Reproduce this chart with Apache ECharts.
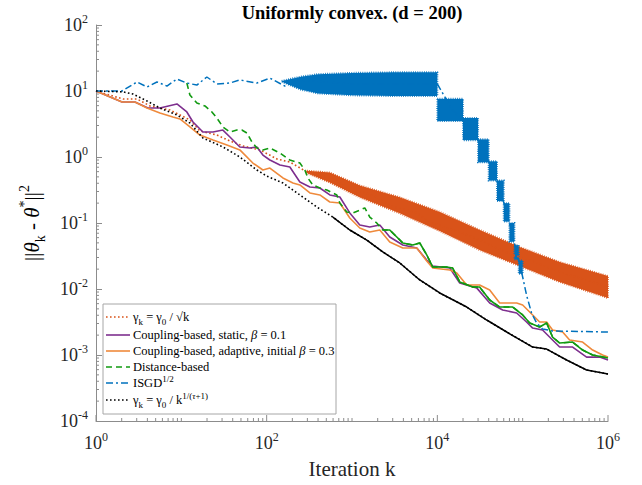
<!DOCTYPE html>
<html><head><meta charset="utf-8">
<script src="https://cdn.jsdelivr.net/npm/echarts@6/dist/echarts.min.js"></script>
<style>html,body{margin:0;padding:0;background:#fff}#c{width:642px;height:485px}</style>
</head><body><div id="c"></div>
<script>
// ---------------- data ----------------
// gamma_k = gamma_0 / sqrt(k)  (dotted, becomes a noisy band)
const sqrtK = [1,2.07,3.02,4.29,7.35,9.63,12.6,16.5,26.1,37.1,52.6,83.2,132,187,296,420,664,942,1337,1950,2770,3940,5740,8150,12900,19800,31300,49600,76400,121000,191000,294000,465000,736000,1000000];
const sqrtV = [10,7.57,7.57,5.93,5.15,4.33,3.64,2.48,2.15,1.75,1.47,1.28,0.933,0.84,0.593,0.533,0.449,0.295,0.295,0.248,0.181,0.163,0.142,0.1035,0.084,0.0705,0.0552,0.0418,0.0328,0.0275,0.0216,0.0175,0.0147,0.0123,0.0107];
const sqrtBandK  = [296,550,1234,3630,10670,31350,92200,271000,1000000];
const sqrtBandHi = [0.62,0.58,0.37,0.245,0.147,0.0783,0.0433,0.0256,0.0157];
const sqrtBandLo = [0.57,0.41,0.245,0.14,0.0757,0.039,0.0223,0.0128,0.0073];

// Coupling-based, static, beta = 0.1
const staticK = [1,2.02,2.86,4.06,5.61,8.88,11.6,13.7,17.9,23.5,30.7,37.1,48.5,63.6,76.8,90.3,109,143,187,245,321,420,550,720,942,1234,1615,2117,2770,3940,5740,7510,8830,14000,18300,28900,41100,58300,85100,111000,131000,171000,224000,271000,385000,561000,798000,1000000];
const staticV = [10,6.81,6.81,5.52,5.52,6.36,4.81,3.39,2.39,2.39,2.56,2.01,1.42,1.37,1.42,1.07,0.901,0.757,0.705,0.418,0.351,0.339,0.266,0.248,0.142,0.0933,0.0869,0.0933,0.0614,0.0464,0.0418,0.0275,0.0223,0.0208,0.0123,0.0104,0.00614,0.00481,0.00433,0.00316,0.00256,0.00239,0.00169,0.00132,0.00132,0.00093,0.00093,0.00084];

// Coupling-based, adaptive, initial beta = 0.3
const adaptK = [1,2.02,2.86,3.96,5.61,7.97,9.63,12.6,16.5,23.5,34.2,48.5,68.9,90.3,109,155,203,245,321,420,550,720,942,1234,1615,2117,2770,3940,5740,7510,8830,14000,16900,22100,31300,41100,53800,85100,100000,131000,158000,191000,224000,294000,355000,504000,661000,865000,1000000];
const adaptV = [10,6.81,6.81,5.52,4.64,4.04,3.77,2.85,2.15,1.81,1.52,1.28,0.81,0.635,0.681,0.481,0.404,0.377,0.285,0.266,0.208,0.201,0.119,0.084,0.0731,0.0783,0.0515,0.0418,0.0418,0.0266,0.0208,0.0194,0.0175,0.0115,0.0115,0.00966,0.00614,0.00614,0.00573,0.00404,0.00316,0.00316,0.00239,0.00223,0.00169,0.00157,0.00119,0.001,0.00093];

// Distance-based
const distK = [11.6,12.6,15.2,18.9,22.8,26.1,30.7,37.1,44.8,51.2,58.7,67.1,76.8,90.3,109,143,187,245,280,304,347,420,507,664,720,869,1021,1234,1413,1615,1950,2295,2770,3350,3940,5150,6225,7510,8830,12900,15100,18300,26000,31300,41100,53800,76400,100000,121000,158000,191000,224000,271000,385000,504000,661000,1000000];
const distV = [13.2,8.7,6.58,5.93,4.81,3.9,2.85,2.39,2.56,2.56,2.31,1.69,1.37,1.28,1.37,1.15,0.901,0.81,0.635,0.481,0.377,0.339,0.316,0.266,0.201,0.147,0.142,0.157,0.169,0.123,0.1,0.0783,0.0783,0.0614,0.0498,0.0464,0.0498,0.0328,0.0216,0.0216,0.0208,0.0128,0.0107,0.0107,0.00681,0.00533,0.00533,0.00404,0.00305,0.00266,0.00305,0.00187,0.00152,0.00157,0.00119,0.001,0.0009];

// ISGD^{1/2}
const isgdK = [1,2.02,3.02,3.96,5.18,6.78,8.88,11.6,15.2,19.9,26.1,37.1,48.5,76.8,109,163,245,942,10000,15000,25000,35000,45000,55000,65000,75000,85000,95000,100000,111000,127000,146000,171000,224000,1000000];
const isgdV = [10,10,13.7,11.5,13.7,11.9,15.2,13.2,12.3,16.3,12.8,13.2,14.7,13.2,15.7,11.9,14.7,12.8,12.8,5.15,2.65,1.23,0.61,0.307,0.141,0.0707,0.0352,0.0208,0.0152,0.0081,0.00433,0.00305,0.00248,0.00231,0.00223];
const isgdBandK  = [150,250,400,1000,3000,10000];
const isgdBandHi = [14.2,16.5,18,18.8,19.2,19.2];
const isgdBandLo = [13.8,10.5,9.2,8.6,8.4,8.4];
const isgdStepK0 = [10000,20000,30000,40000,50000,60000,70000,80000,90000];
const isgdStepK1 = [20000,30000,40000,50000,60000,70000,80000,90000,100000];
const isgdStepHi = [7.6,3.9,1.85,0.86,0.44,0.20,0.10,0.046,0.027];
const isgdStepLo = [3.5,1.8,0.83,0.44,0.215,0.105,0.052,0.028,0.017];

// gamma_k = gamma_0 / k^{1/(tau+1)}
const tauK = [1,2.07,2.71,3.96,5.61,8.88,12.6,17.9,30.7,48.5,76.8,100,155,245,387,596,942,1490,2295,3630,6225,10670,22100,37900,65000,131000,191000,327000,561000,1000000];
const tauV = [10,9.7,9.0,7.05,5.52,4.33,3.27,1.94,1.42,1.0,0.635,0.515,0.404,0.266,0.175,0.123,0.0783,0.0552,0.0364,0.0248,0.0137,0.0087,0.00533,0.00339,0.00223,0.00132,0.00123,0.00084,0.000593,0.000515];

// axes
const xMin = 1, xMax = 1e6, yMin = 1e-4, yMax = 1e2;
const xMajor = [1, 100, 10000, 1000000];
const minorMult = [2,3,4,5,6,7,8,9];
const xDecades = [0,1,2,3,4,5];
const yDecades = [-4,-3,-2,-1,0,1];
const xOddDecades = [10,1000,100000];

// ---------------- build ----------------
const FF = '"Liberation Serif","Times New Roman",serif';
const C_RED = '#D95319', C_PUR = '#7E2F8E', C_ORG = '#EF8A3C', C_GRN = '#119A11', C_BLU = '#0072BD', C_BLK = '#000000';
const zip = (K, V) => K.map((k, i) => [k, V[i]]);
const fromK = (K, V, k0) => zip(K, V).filter(p => p[0] >= k0);

const xMinor = [];
xDecades.forEach(e => minorMult.forEach(m => xMinor.push(m * Math.pow(10, e))));
xOddDecades.forEach(v => xMinor.push(v));
const yMinor = [];
yDecades.forEach(e => minorMult.forEach(m => yMinor.push(m * Math.pow(10, e))));

function lineS(name, data, color, type, width) {
  return { name, type: 'line', data, showSymbol: false, symbol: 'none', silent: true,
    lineStyle: { color, width, type, cap: 'butt' }, itemStyle: { color }, animation: false, clip: true };
}
function bandS(K, Hi, Lo, color) {
  return { type: 'custom', silent: true, animation: false, data: [[K[0], Hi[0]]],
    renderItem: (params, api) => {
      const pts = [];
      for (let i = 0; i < K.length; i++) pts.push(api.coord([K[i], Hi[i]]));
      for (let i = K.length - 1; i >= 0; i--) pts.push(api.coord([K[i], Lo[i]]));
      return { type: 'polygon', shape: { points: pts },
        style: { fill: color, stroke: color, lineWidth: 2, lineDash: [0.8, 1.4], lineJoin: 'round' } };
    } };
}
const stepData = isgdStepK0.map((k, i) => [k, isgdStepK1[i], isgdStepHi[i], isgdStepLo[i]]);

const tickColor = '#8c8c8c';
function labelFmtY(v) { const e = Math.round(Math.log10(v)); return '{b|10}{s|' + e + '}'; }
function labelFmtX(v) { const e = Math.round(Math.log10(v)); return (e % 2 === 0) ? '{b|10}{s|' + e + '}' : ''; }
const labelRich = {
  b: { fontFamily: FF, fontSize: 18, color: '#262626', lineHeight: 24 },
  s: { fontFamily: FF, fontSize: 12, color: '#262626', lineHeight: 12, verticalAlign: 'top' }
};
function tickS(vals, horiz, len) {
  return { type: 'custom', silent: true, animation: false, clip: false,
    data: vals.map(v => horiz ? [v, yMin] : [xMin, v]),
    renderItem: (params, api) => {
      const p = api.coord([api.value(0), api.value(1)]);
      const shape = horiz ? { x1: p[0], y1: p[1], x2: p[0], y2: p[1] - len } : { x1: p[0], y1: p[1], x2: p[0] + len, y2: p[1] };
      return { type: 'line', shape, style: { stroke: tickColor, lineWidth: 1 } };
    } };
}

const series = [
  lineS('sqrt', zip(sqrtK, sqrtV), C_RED, [1.6, 2.4], 1.6),
  bandS(sqrtBandK, sqrtBandHi, sqrtBandLo, C_RED),
  lineS('static', zip(staticK, staticV), C_PUR, 'solid', 1.6),
  lineS('adaptive', zip(adaptK, adaptV), C_ORG, 'solid', 1.6),
  lineS('dist', zip(distK, distV), C_GRN, [6, 4], 1.6),
  lineS('dist2', fromK(distK, distV, 2295), C_GRN, 'solid', 1.6),
  lineS('isgd', zip(isgdK, isgdV), C_BLU, [7, 3, 2, 3], 1.5),
  bandS(isgdBandK, isgdBandHi, isgdBandLo, C_BLU),
  { type: 'custom', silent: true, animation: false, data: stepData, encode: { x: [0, 1], y: [2, 3] },
    renderItem: (params, api) => {
      const a = api.coord([api.value(0), api.value(2)]);
      const b = api.coord([api.value(1), api.value(3)]);
      return { type: 'rect', shape: { x: a[0], y: a[1], width: b[0] - a[0], height: b[1] - a[1] },
        style: { fill: C_BLU, stroke: C_BLU, lineWidth: 2, lineDash: [0.8, 1.4] } };
    } },
  lineS('tau', zip(tauK, tauV), C_BLK, [1.6, 2.4], 1.6),
  lineS('tau2', fromK(tauK, tauV, 596), C_BLK, 'solid', 1.5),
  tickS(xMinor, true, 3),
  tickS(xMajor, true, 6),
  tickS(yMinor, false, 3)
];

// legend (drawn with graphic elements)
const LX = 103, LY = 304, LW = 233, LH = 110;
const rowY = [317, 335, 351, 367, 383, 400];
const legStyles = [
  { c: C_RED, d: [1.6, 2.4] }, { c: C_PUR, d: null }, { c: C_ORG, d: null },
  { c: C_GRN, d: [6, 4] }, { c: C_BLU, d: [7, 3, 2, 3] }, { c: C_BLK, d: [1.6, 2.4] }
];
const legTexts = [
  '{t|γ}{sub|k}{t| = γ}{sub|0}{t| / √k}',
  '{t|Coupling-based, static, }{i|β}{t| = 0.1}',
  '{t|Coupling-based, adaptive, initial }{i|β}{t| = 0.3}',
  '{t|Distance-based}',
  '{t|ISGD}{sup|1/2}',
  '{t|γ}{sub|k}{t| = γ}{sub|0}{t| / k}{sup|1/(}{supi|τ}{sup|+1)}'
];
const legRich = {
  t: { fontFamily: FF, fontSize: 12.5, color: '#000', lineHeight: 18 },
  i: { fontFamily: FF, fontSize: 12.5, fontStyle: 'italic', color: '#000', lineHeight: 18 },
  sub: { fontFamily: FF, fontSize: 9, color: '#000', lineHeight: 9, verticalAlign: 'bottom' },
  sup: { fontFamily: FF, fontSize: 9, color: '#000', lineHeight: 9, verticalAlign: 'top' },
  supi: { fontFamily: FF, fontSize: 9, fontStyle: 'italic', color: '#000', lineHeight: 9, verticalAlign: 'top' }
};
const graphics = [
  { type: 'rect', shape: { x: LX, y: LY, width: LW, height: LH }, style: { fill: '#fff', stroke: '#a6a6a6', lineWidth: 1 }, z: 100 }
];
rowY.forEach((y, i) => {
  graphics.push({ type: 'line', shape: { x1: 106, y1: y, x2: 130, y2: y },
    style: { stroke: legStyles[i].c, lineWidth: 1.6, lineDash: legStyles[i].d }, z: 101 });
  graphics.push({ type: 'text', x: 133, y: y, z: 101,
    style: { text: legTexts[i], rich: legRich, align: 'left', verticalAlign: 'middle', textAlign: 'left', textVerticalAlign: 'middle' } });
});
// title, axis names
graphics.push({ type: 'text', x: 352, y: 13, z: 101,
  style: { text: 'Uniformly convex. (d = 200)', fontFamily: FF, fontSize: 18.5, fontWeight: 'bold', fill: '#000',
    align: 'center', verticalAlign: 'middle', textAlign: 'center', textVerticalAlign: 'middle' } });
graphics.push({ type: 'text', x: 352, y: 469, z: 101,
  style: { text: 'Iteration k', fontFamily: FF, fontSize: 21, fill: '#262626',
    align: 'center', verticalAlign: 'middle', textAlign: 'center', textVerticalAlign: 'middle' } });
graphics.push({ type: 'text', x: 32, y: 223, rotation: Math.PI / 2, z: 101,
  style: { text: '{n|||}{it|θ}{sub|k}{n| - }{it|θ}{sup|*}{n|||}{sup|2}',
    rich: {
      n: { fontFamily: FF, fontSize: 21, color: '#262626', lineHeight: 30 },
      it: { fontFamily: FF, fontSize: 21, fontStyle: 'italic', color: '#262626', lineHeight: 30 },
      sub: { fontFamily: FF, fontSize: 14, color: '#262626', lineHeight: 14, verticalAlign: 'bottom' },
      sup: { fontFamily: FF, fontSize: 14, color: '#262626', lineHeight: 14, verticalAlign: 'top' }
    },
    align: 'center', verticalAlign: 'middle', textAlign: 'center', textVerticalAlign: 'middle' } });

const chart = echarts.init(document.getElementById('c'), null, { renderer: 'svg', width: 642, height: 485 });
chart.setOption({
  animation: false,
  backgroundColor: '#fff',
  grid: { left: 96, right: 34, top: 25, bottom: 64, containLabel: false, outerBoundsMode: 'none' },
  xAxis: {
    type: 'log', logBase: 10, min: xMin, max: xMax,
    axisLine: { show: true, lineStyle: { color: tickColor, width: 1 } },
    axisTick: { show: false },
    axisLabel: { margin: 10, formatter: labelFmtX, rich: labelRich },
    splitLine: { show: false }, minorTick: { show: false }
  },
  yAxis: {
    type: 'log', logBase: 10, min: yMin, max: yMax,
    axisLine: { show: true, lineStyle: { color: tickColor, width: 1 } },
    axisTick: { show: true, inside: true, length: 6, lineStyle: { color: tickColor } },
    axisLabel: { margin: 8, formatter: labelFmtY, rich: labelRich },
    splitLine: { show: false }, minorTick: { show: false }
  },
  series: series,
  graphic: graphics
});
</script></body></html>
